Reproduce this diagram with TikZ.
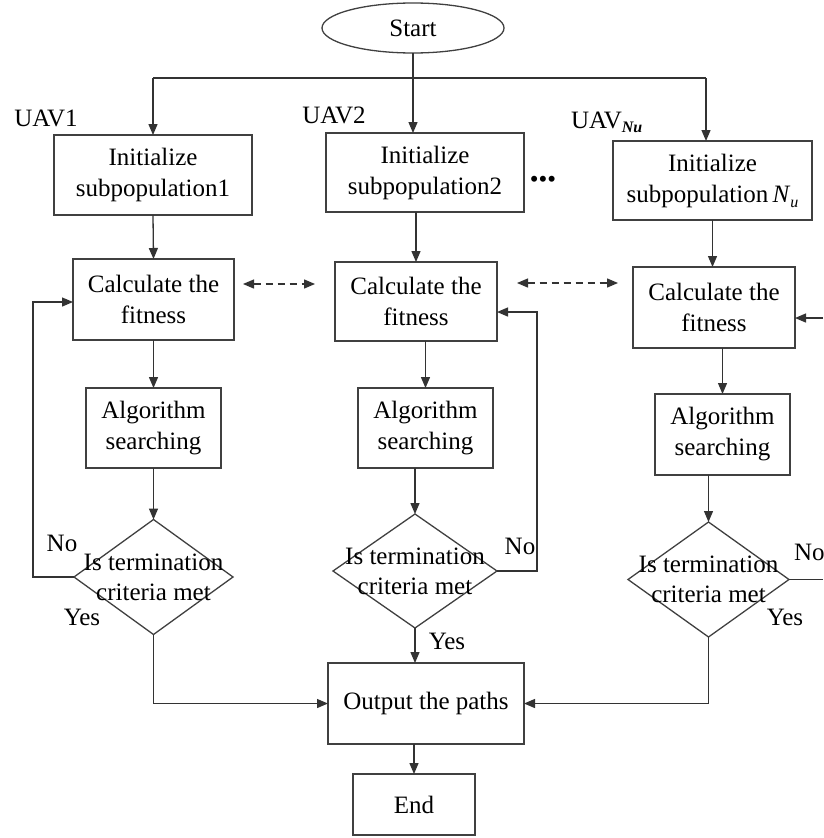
\documentclass[tikz,border=0pt]{standalone}
\usepackage{fontspec}
\setmainfont{Liberation Serif}
\usetikzlibrary{arrows.meta,shapes.geometric}
\begin{document}
\begin{tikzpicture}[x=1pt,y=-1pt, line width=1.3pt, draw=black!80,
  every node/.style={font=\fontsize{25}{31}\selectfont, align=center, inner sep=0pt, outer sep=0pt, text=black},
  box/.style={draw=black!75, rectangle, fill=white},
  dia/.style={draw=black!75, diamond, fill=white},
  arr/.style={-{Triangle[length=11pt,width=9pt]}},
  darr/.style={{Triangle[length=11pt,width=9pt]}-{Triangle[length=11pt,width=9pt]}, dash pattern=on 7pt off 5pt}]
\useasboundingbox (0,0) rectangle (823,838);

% nodes
\node[draw=black!75, ellipse, minimum width=182pt, minimum height=50pt] (start) at (413,28) {Start};

\node[box, minimum width=198pt, minimum height=80pt] (i1) at (153,175) {Initialize\\subpopulation1};
\node[box, minimum width=198pt, minimum height=79pt] (i2) at (425,172.5) {Initialize\\subpopulation2};
\node[box, minimum width=199pt, minimum height=79pt] (i3) at (712.5,180.5) {Initialize\\subpopulation\,\textit{N}\raisebox{-5pt}{\fontsize{16}{16}\selectfont\itshape u}};

\node (uav1) at (46,118) {UAV1};
\node (uav2) at (334,115) {UAV2};
\node[anchor=west] (uav3) at (571,122) {UAV\raisebox{-4pt}{\fontsize{16}{16}\selectfont\itshape\bfseries Nu}};
\node (dots) at (543,182) {•••};

\node[box, minimum width=161pt, minimum height=81pt] (c1) at (153.5,299.5) {Calculate the\\fitness};
\node[box, minimum width=162pt, minimum height=79pt] (c2) at (416,301.5) {Calculate the\\fitness};
\node[box, minimum width=162pt, minimum height=81pt] (c3) at (714,307.5) {Calculate the\\fitness};

\node[box, minimum width=135pt, minimum height=80pt] (a1) at (153.5,428) {Algorithm\\searching};
\node[box, minimum width=135pt, minimum height=80pt] (a2) at (425.5,428) {Algorithm\\searching};
\node[box, minimum width=135pt, minimum height=81pt] (a3) at (722.5,434.5) {Algorithm\\searching};

\node[dia, minimum width=159pt, minimum height=115pt] (d1) at (153.5,577) {};
\node[dia, minimum width=164pt, minimum height=114pt] (d2) at (415,571) {};
\node[dia, minimum width=161pt, minimum height=115pt] (d3) at (708.5,579.5) {};
\node[font=\fontsize{25}{30}\selectfont] (t1) at (d1) {Is termination\\criteria met};
\node[font=\fontsize{25}{30}\selectfont] (t2) at (d2) {Is termination\\criteria met};
\node[font=\fontsize{25}{30}\selectfont] (t3) at (d3) {Is termination\\criteria met};

\node[box, minimum width=196pt, minimum height=81pt] (out) at (426,703.5) {Output the paths};
\node[box, minimum width=122pt, minimum height=61pt] (end) at (414,804.5) {End};

\node (no1) at (62,543) {No};
\node (yes1) at (82,617) {Yes};
\node (no2) at (520,546) {No};
\node (yes2) at (447,641) {Yes};
\node[anchor=west] (no3) at (794,552) {No};
\node (yes3) at (785,617) {Yes};

% coordinates
\coordinate (jL) at (153,78);
\coordinate (jR) at (706,78);
\coordinate (l1) at (33,302);
\coordinate (r2) at (537,312);
\coordinate (r3) at (823,318);
\coordinate (e3) at (823,579.5);
\coordinate (da1) at (243,284);
\coordinate (db1) at (315,284);
\coordinate (da2) at (517,283);
\coordinate (db2) at (618,283);
\coordinate (x2) at (416,0);

% connectors
\draw (jL) -- (jR);
\draw[arr] (jL) -- (jL |- i1.north);
\draw[arr] (start.south) -- (start.south |- i2.north);
\draw[arr] (jR) -- (jR |- i3.north);

\draw[arr] (i1.south) -- (c1.north);
\draw[arr] (i2.south -| x2) -- (c2.north -| x2);
\draw[arr] (i3.south) -- (i3.south |- c3.north);

\draw[arr] (c1.south) -- (a1.north);
\draw[arr] (c2.south -| a2) -- (a2.north);
\draw[arr] (c3.south -| a3) -- (a3.north);

\draw[arr] (a1.south) -- (d1.north);
\draw[arr] (a2.south -| d2) -- (d2.north);
\draw[arr] (a3.south -| d3) -- (d3.north);

\draw[arr] (d1.west) -- (d1.west -| l1) -- (l1) -- (c1.west |- l1);
\draw[arr] (d2.east) -- (d2.east -| r2) -- (r2) -- (c2.east |- r2);
\draw[arr] (r3) -- (c3.east |- r3);
\draw (d3.east) -- (e3);

\draw[darr] (da1) -- (db1);
\draw[darr] (da2) -- (db2);

\draw[arr] (d1.south) |- (out.west);
\draw[arr] (d2.south) -- (d2.south |- out.north);
\draw[arr] (d3.south) |- (out.east);
\draw[arr] (out.south -| end) -- (end.north);
\end{tikzpicture}
\end{document}
